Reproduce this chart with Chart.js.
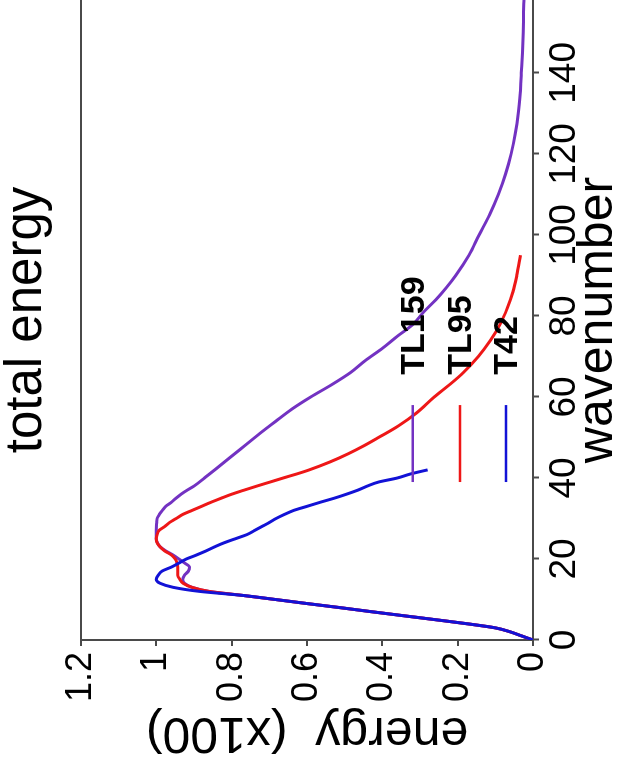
<!DOCTYPE html>
<html>
<head>
<meta charset="utf-8">
<script src="https://cdn.jsdelivr.net/npm/chart.js@4.4.1/dist/chart.umd.min.js"></script>
<style>
  html, body { margin: 0; padding: 0; background: #fff; overflow: hidden; }
  /* the reference is the chart turned a quarter turn anticlockwise */
  #wrap {
    position: absolute; left: 0; top: 0;
    width: 770px; height: 627px;
    transform-origin: 0 0;
    transform: translateY(770px) rotate(-90deg);
  }
</style>
</head>
<body>
<div id="wrap"><canvas id="spec" width="770" height="627"></canvas></div>
<script>
// wavenumber / energy (x100)
const K_TL159 = [0, 1, 2, 3, 4, 5, 6, 7, 8, 9, 10, 11, 12, 13, 14, 15, 16, 17, 18, 19, 20, 21, 22, 23, 24, 25, 27, 29, 30, 31, 32, 33, 34, 35, 36, 37, 38, 40, 42, 45, 48, 51, 54, 57, 60, 63, 66, 69, 72, 75, 78, 81, 84, 87, 90, 95, 100, 105, 110, 115, 120, 125, 130, 135, 140, 145, 150, 155, 158];
const E_TL159 = [0, 0.03, 0.06, 0.10, 0.174, 0.258, 0.344, 0.43, 0.513, 0.60, 0.684, 0.77, 0.86, 0.905, 0.925, 0.93, 0.925, 0.915, 0.912, 0.925, 0.94, 0.956, 0.975, 0.99, 0.997, 1.0, 1.0, 0.999, 0.998, 0.992, 0.984, 0.975, 0.96, 0.948, 0.934, 0.918, 0.90, 0.872, 0.845, 0.805, 0.765, 0.725, 0.683, 0.64, 0.59, 0.535, 0.485, 0.445, 0.40, 0.36, 0.318, 0.29, 0.258, 0.23, 0.205, 0.17, 0.143, 0.115, 0.092, 0.073, 0.058, 0.047, 0.039, 0.034, 0.031, 0.028, 0.026, 0.025, 0.024];

const K_TL95 = [0, 1, 2, 3, 4, 5, 6, 7, 8, 9, 10, 11, 12, 13, 14, 15, 16, 17, 18, 19, 20, 21, 22, 23, 24, 25, 26, 27, 28, 29, 30, 31, 32, 33, 34, 35, 36, 37, 38, 39, 40, 41, 42, 44, 46, 48, 50, 53, 56, 60, 63, 66, 70, 74, 78, 82, 86, 90, 95];
const E_TL95 = [0, 0.03, 0.06, 0.10, 0.174, 0.258, 0.344, 0.43, 0.513, 0.60, 0.684, 0.77, 0.86, 0.905, 0.929, 0.938, 0.943, 0.943, 0.943, 0.945, 0.95, 0.96, 0.978, 0.99, 0.998, 1.0, 0.998, 0.993, 0.978, 0.965, 0.947, 0.93, 0.905, 0.88, 0.855, 0.828, 0.80, 0.767, 0.733, 0.698, 0.663, 0.627, 0.594, 0.538, 0.49, 0.448, 0.41, 0.355, 0.31, 0.262, 0.222, 0.185, 0.145, 0.113, 0.087, 0.068, 0.053, 0.043, 0.033];

const K_T42 = [0, 1, 2, 3, 4, 5, 6, 7, 8, 9, 10, 11, 12, 13, 14, 15, 16, 17, 18, 19, 20, 21, 22, 23, 24, 25, 26, 27, 28, 29, 30, 31, 32, 33, 34, 35, 36, 37, 38, 39, 40, 41, 42];
const E_T42 = [0, 0.03, 0.06, 0.10, 0.174, 0.258, 0.344, 0.43, 0.513, 0.60, 0.684, 0.77, 0.885, 0.955, 0.99, 1.0, 0.995, 0.985, 0.96, 0.94, 0.92, 0.893, 0.868, 0.845, 0.82, 0.79, 0.76, 0.74, 0.72, 0.70, 0.682, 0.66, 0.635, 0.60, 0.565, 0.528, 0.495, 0.465, 0.44, 0.41, 0.36, 0.325, 0.28];

const SERIES = ["TL159", "TL95", "T42"];
const COLORS = ["#7332c2", "#ee1717", "#1212d6"];

const K_TICKS = [0, 20, 40, 60, 80, 100, 120, 140];

// legend: short lines from k=39 to k=58 at these energy levels, names after them
const LEGEND_LEVELS = [0.319, 0.194, 0.072];
const LEGEND_FROM = 39, LEGEND_TO = 58, LEGEND_TEXT_AT = 65.5;

const FONT = "'Liberation Sans', Arial, sans-serif";
const AXIS = "#4a4a4a";

function pts(ks, es) {
    return ks.map((k, i) => ({ x: k, y: es[i] }));
}

const legendPlugin = {
    id: "inlineLegend",
    afterDatasetsDraw(chart) {
        const ctx = chart.ctx;
        const xs = chart.scales.x, ys = chart.scales.y;
        ctx.save();
        ctx.font = "bold 34px " + FONT;
        ctx.textBaseline = "middle";
        ctx.textAlign = "left";
        for (let i = 0; i < SERIES.length; i++) {
            let y = ys.getPixelForValue(LEGEND_LEVELS[i]);
            ctx.strokeStyle = COLORS[i];
            ctx.lineWidth = 2.5;
            ctx.beginPath();
            ctx.moveTo(xs.getPixelForValue(LEGEND_FROM), y);
            ctx.lineTo(xs.getPixelForValue(LEGEND_TO), y);
            ctx.stroke();
            ctx.fillStyle = "#000";
            ctx.fillText(SERIES[i], xs.getPixelForValue(LEGEND_TEXT_AT), y + 2);
        }
        ctx.restore();
    }
};

new Chart(document.getElementById("spec").getContext("2d"), {
    type: "line",
    data: {
        datasets: [
            { label: SERIES[0], data: pts(K_TL159, E_TL159), borderColor: COLORS[0], order: 2 },
            { label: SERIES[1], data: pts(K_TL95, E_TL95), borderColor: COLORS[1], order: 1 },
            { label: SERIES[2], data: pts(K_T42, E_T42), borderColor: COLORS[2], order: 0 }
        ]
    },
    options: {
        responsive: false,
        animation: false,
        layout: { padding: 0 },
        elements: {
            point: { radius: 0 },
            line: { borderWidth: 3, cubicInterpolationMode: "monotone", fill: false }
        },
        plugins: {
            legend: { display: false },
            tooltip: { enabled: false },
            title: {
                display: true,
                fullSize: false,
                text: "total energy",
                color: "#000",
                font: { family: FONT, size: 51, weight: "normal", lineHeight: 1 },
                padding: { top: 1, bottom: 29 }
            }
        },
        scales: {
            x: {
                type: "linear",
                min: 0, max: 158,
                ticks: { color: "#000", padding: 4, maxRotation: 0,
                         font: { family: FONT, size: 37 } },
                afterBuildTicks: s => { s.ticks = K_TICKS.map(v => ({ value: v })); },
                afterFit: s => { s.height = 94; },
                grid: { display: true, drawOnChartArea: false, tickLength: 6, tickColor: AXIS, tickWidth: 2 },
                border: { display: true, color: AXIS, width: 2 },
                title: { display: true, text: "wavenumber", color: "#000",
                         font: { family: FONT, size: 50, lineHeight: 1 }, padding: { top: 0, bottom: 4 } }
            },
            y: {
                min: 0, max: 1.2,
                ticks: { stepSize: 0.2, color: "#000", padding: 6,
                         font: { family: FONT, size: 36 },
                         callback: v => String(Number(v.toFixed(1))) },
                afterFit: s => { s.width = 130; },
                grid: {
                    drawOnChartArea: true, tickLength: 6, tickColor: AXIS, tickWidth: 2, lineWidth: 2,
                    color: c => (c.tick && Math.abs(c.tick.value - 1.2) < 1e-6) ? AXIS : "rgba(0,0,0,0)"
                },
                border: { display: true, color: AXIS, width: 2 },
                title: { display: true, text: "energy  (x100)", color: "#000",
                         font: { family: FONT, size: 50, lineHeight: 1 }, padding: { top: 13, bottom: 0 } }
            }
        }
    },
    plugins: [legendPlugin]
});
</script>
</body>
</html>
